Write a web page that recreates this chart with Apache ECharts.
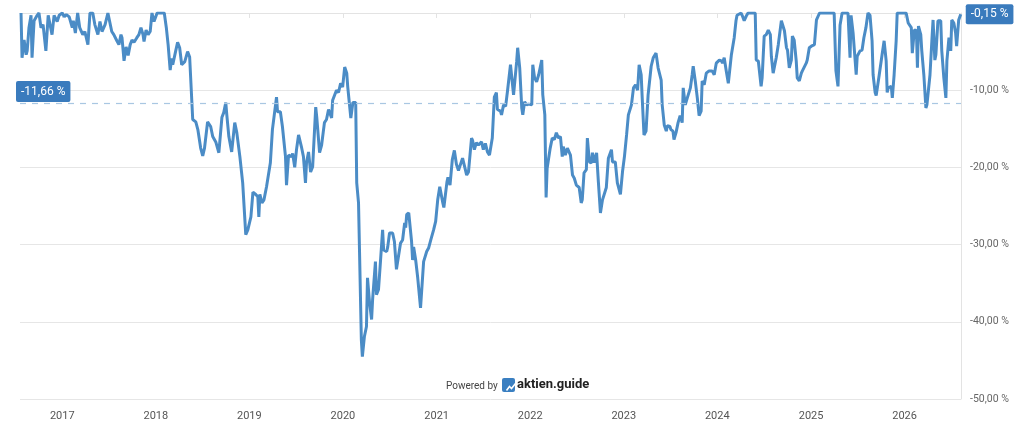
<!DOCTYPE html>
<html>
<head>
<meta charset="utf-8">
<script src="https://cdn.jsdelivr.net/npm/echarts@6/dist/echarts.min.js"></script>
<style>
  html, body { margin: 0; padding: 0; background: #fff; }
  #chart { width: 1024px; height: 429px; }
</style>
</head>
<body>
<div id="chart"></div>
<script>
// drawdown from the running high, in %
const dates = [
  '2016-07-24','2016-07-28','2016-08-05','2016-08-13','2016-08-17','2016-08-24','2016-09-01','2016-09-05',
  '2016-09-13','2016-09-25','2016-10-02','2016-10-10','2016-10-18','2016-10-29','2016-11-07','2016-11-22',
  '2016-11-30','2016-12-12','2016-12-20','2017-01-01','2017-01-09','2017-01-17','2017-01-28','2017-02-09',
  '2017-02-13','2017-02-21','2017-03-02','2017-03-10','2017-03-22','2017-03-30','2017-04-11','2017-04-19',
  '2017-04-30','2017-05-08','2017-05-20','2017-05-28','2017-06-05','2017-06-17','2017-06-28','2017-07-05',
  '2017-07-13','2017-07-21','2017-08-02','2017-08-10','2017-08-18','2017-08-22','2017-08-30','2017-09-07',
  '2017-09-15','2017-09-23','2017-09-30','2017-10-08','2017-10-19','2017-10-27','2017-11-04','2017-11-12',
  '2017-11-16','2017-11-24','2017-12-02','2017-12-10','2017-12-17','2017-12-25','2018-01-06','2018-01-26',
  '2018-02-03','2018-02-11','2018-02-18','2018-02-26','2018-03-04','2018-03-08','2018-03-19','2018-03-27',
  '2018-04-04','2018-04-12','2018-04-24','2018-05-05','2018-05-13','2018-05-25','2018-06-06','2018-06-14',
  '2018-06-25','2018-07-03','2018-07-10','2018-07-22','2018-08-03','2018-08-11','2018-08-15','2018-08-23',
  '2018-09-04','2018-09-16','2018-09-23','2018-10-01','2018-10-05','2018-10-13','2018-10-24','2018-11-05',
  '2018-11-13','2018-11-25','2018-12-06','2018-12-18','2018-12-26','2019-01-07','2019-01-15','2019-01-26',
  '2019-02-03','2019-02-07','2019-02-11','2019-02-19','2019-02-27','2019-03-09','2019-03-24','2019-04-01',
  '2019-04-17','2019-04-21','2019-05-02','2019-05-10','2019-05-14','2019-05-22','2019-05-26','2019-06-03',
  '2019-06-15','2019-06-19','2019-06-27','2019-07-04','2019-07-12','2019-07-23','2019-07-31','2019-08-08',
  '2019-08-12','2019-08-20','2019-08-28','2019-09-05','2019-09-17','2019-09-21','2019-10-02','2019-10-10',
  '2019-10-14','2019-10-21','2019-10-29','2019-11-06','2019-11-18','2019-11-22','2019-11-29','2019-12-07',
  '2019-12-15','2019-12-23','2019-12-31','2020-01-08','2020-01-16','2020-01-20','2020-02-01','2020-02-09',
  '2020-02-20','2020-02-24','2020-03-02','2020-03-13','2020-03-17','2020-03-25','2020-04-02','2020-04-06',
  '2020-04-14','2020-04-22','2020-04-26','2020-05-07','2020-05-11','2020-05-19','2020-05-27','2020-06-04',
  '2020-06-08','2020-06-20','2020-06-24','2020-07-01','2020-07-13','2020-07-20','2020-07-28','2020-08-01',
  '2020-08-13','2020-08-21','2020-08-29','2020-09-02','2020-09-06','2020-09-14','2020-09-25','2020-09-29',
  '2020-10-03','2020-10-11','2020-10-19','2020-10-30','2020-11-03','2020-11-11','2020-11-23','2020-12-01',
  '2020-12-09','2020-12-13','2020-12-20','2020-12-28','2021-01-05','2021-01-13','2021-01-25','2021-01-29',
  '2021-02-10','2021-02-14','2021-02-22','2021-03-03','2021-03-11','2021-03-19','2021-03-27','2021-04-12',
  '2021-04-20','2021-04-28','2021-05-05','2021-05-17','2021-05-21','2021-05-28','2021-06-05','2021-06-13',
  '2021-06-25','2021-07-02','2021-07-10','2021-07-18','2021-07-26','2021-08-06','2021-08-10','2021-08-14',
  '2021-08-22','2021-08-26','2021-09-07','2021-09-11','2021-09-19','2021-09-27','2021-10-04','2021-10-16',
  '2021-10-24','2021-10-28','2021-11-09','2021-11-13','2021-11-21','2021-11-29','2021-12-03','2021-12-10',
  '2021-12-18','2021-12-26','2022-01-07','2022-01-11','2022-01-18','2022-01-26','2022-02-03','2022-02-15',
  '2022-02-19','2022-02-27','2022-03-04','2022-03-08','2022-03-20','2022-03-28','2022-04-05','2022-04-13',
  '2022-04-21','2022-04-29','2022-05-06','2022-05-10','2022-05-18','2022-05-26','2022-06-07','2022-06-15',
  '2022-06-22','2022-06-30','2022-07-11','2022-07-19','2022-07-23','2022-07-30','2022-08-08','2022-08-12',
  '2022-08-20','2022-08-28','2022-09-01','2022-09-09','2022-09-17','2022-09-24','2022-10-02','2022-10-10',
  '2022-10-17','2022-10-25','2022-11-02','2022-11-14','2022-11-18','2022-11-29','2022-12-07','2022-12-19',
  '2022-12-27','2023-01-04','2023-01-12','2023-01-19','2023-01-31','2023-02-08','2023-02-16','2023-02-24',
  '2023-03-02','2023-03-10','2023-03-14','2023-03-21','2023-03-29','2023-04-06','2023-04-18','2023-04-26',
  '2023-05-07','2023-05-15','2023-05-27','2023-05-31','2023-06-08','2023-06-16','2023-06-20','2023-06-30',
  '2023-07-04','2023-07-12','2023-07-16','2023-07-24','2023-08-01','2023-08-09','2023-08-17','2023-08-21',
  '2023-08-29','2023-09-06','2023-09-18','2023-09-25','2023-09-29','2023-10-07','2023-10-15','2023-10-22',
  '2023-10-30','2023-11-03','2023-11-11','2023-11-19','2023-11-30','2023-12-12','2023-12-20','2023-12-28',
  '2024-01-09','2024-01-17','2024-01-21','2024-01-28','2024-02-05','2024-02-13','2024-02-25','2024-02-29',
  '2024-03-07','2024-03-14','2024-03-18','2024-04-03','2024-04-07','2024-04-15','2024-04-23','2024-04-30',
  '2024-05-28','2024-06-01','2024-06-09','2024-06-20','2024-06-24','2024-07-02','2024-07-10','2024-07-18',
  '2024-07-26','2024-07-30','2024-08-06','2024-08-10','2024-08-18','2024-08-26','2024-09-07','2024-09-11',
  '2024-09-19','2024-09-27','2024-10-01','2024-10-08','2024-10-16','2024-10-20','2024-10-27','2024-11-04',
  '2024-11-08','2024-11-16','2024-11-24','2024-11-28','2024-12-05','2024-12-13','2024-12-17','2024-12-25',
  '2025-01-02','2025-01-14','2025-01-22','2025-01-26','2025-02-03','2025-04-01','2025-04-08','2025-04-16',
  '2025-04-24','2025-05-02','2025-05-25','2025-06-02','2025-06-06','2025-06-14','2025-06-26','2025-06-30',
  '2025-07-11','2025-07-19','2025-07-26','2025-08-03','2025-08-11','2025-08-19','2025-08-27','2025-08-31',
  '2025-09-08','2025-09-12','2025-09-24','2025-10-05','2025-10-13','2025-10-21','2025-10-25','2025-10-29',
  '2025-11-10','2025-11-14','2025-11-21','2025-11-29','2025-12-03','2026-01-07','2026-01-15','2026-01-27',
  '2026-01-31','2026-02-08','2026-02-16','2026-02-20','2026-02-24','2026-03-05','2026-03-09','2026-03-17',
  '2026-03-25','2026-03-29','2026-04-10','2026-04-18','2026-04-22','2026-04-29','2026-05-03','2026-05-11',
  '2026-05-22','2026-05-26','2026-06-03','2026-06-11','2026-06-15','2026-06-23','2026-06-30','2026-07-04',
  '2026-07-12','2026-07-19','2026-07-23','2026-07-31','2026-08-08'
];

const drawdown = [
  0, -5.8, -3.5, -5.4, -4.9, -1.9, -0.3, -5.8,
  -1.0, -0.3, 0, -1.9, -1.5, -4.9, -0.3, -2.8,
  -0.3, -1.1, -0.3, 0, -0.5, -0.2, -0.5, -1.9,
  -1.0, -2.6, 0, -1.9, -2.8, -2.4, -4.1, 0,
  0, -1.5, -2.8, -1.1, -2.4, -1.5, 0, 0,
  -2.4, -2.8, -3.6, -4.1, -2.8, -3.2, -6.2, -4.4,
  -5.5, -4.1, -3.5, -3.8, -3.2, -2.8, -1.9, -2.8,
  -3.7, -2.2, -2.8, -2.4, 0, -1.1, 0, 0,
  0, -1.9, -4.1, -7.4, -5.9, -6.7, -5.0, -3.8,
  -4.5, -6.7, -6.3, -5.0, -5.7, -13.8, -14.1, -15.1,
  -17.5, -18.5, -17.5, -14.1, -14.7, -16.0, -15.8, -16.7,
  -18.1, -13.5, -12.9, -11.6, -13.2, -16.0, -18.0, -14.2,
  -15.5, -18.6, -22.0, -28.7, -28.1, -26.4, -23.2, -23.5,
  -23.8, -26.4, -23.5, -24.6, -24.2, -22.5, -19.4, -15.1,
  -10.9, -12.8, -12.8, -14.7, -14.5, -18.6, -22.3, -18.4,
  -18.6, -18.2, -20.0, -17.7, -15.8, -17.3, -18.6, -22.0,
  -19.4, -18.0, -20.6, -19.9, -12.2, -13.5, -18.1, -17.1,
  -17.3, -14.2, -13.8, -12.5, -13.6, -11.3, -11.5, -10.0,
  -10.3, -9.1, -9.6, -7.0, -7.8, -9.6, -13.6, -11.6,
  -11.6, -22.0, -24.6, -42.3, -44.5, -41.9, -40.6, -34.3,
  -37.5, -39.7, -37.1, -32.2, -36.5, -35.8, -32.0, -28.1,
  -30.7, -30.9, -30.3, -28.5, -28.5, -29.6, -33.2, -33.0,
  -29.8, -29.4, -27.2, -27.8, -26.1, -25.9, -29.6, -32.0,
  -30.3, -32.0, -34.3, -38.2, -38.0, -32.2, -30.9, -30.4,
  -29.4, -29.6, -28.1, -27.0, -24.2, -22.5, -24.6, -25.2,
  -21.9, -21.3, -22.3, -19.0, -17.8, -19.6, -20.4, -18.8,
  -19.9, -21.0, -20.6, -16.2, -16.5, -17.7, -16.8, -17.1,
  -16.7, -17.7, -16.9, -18.0, -18.4, -16.2, -13.5, -10.9,
  -10.3, -12.5, -12.7, -13.2, -11.9, -12.1, -10.2, -6.7,
  -9.3, -10.6, -6.3, -4.5, -7.1, -12.3, -13.2, -11.5,
  -11.9, -11.8, -11.9, -6.7, -8.4, -8.9, -8.0, -6.1,
  -10.6, -13.2, -23.9, -20.1, -17.5, -16.2, -16.4, -15.5,
  -16.2, -16.0, -18.6, -17.3, -18.4, -17.5, -18.4, -21.0,
  -21.4, -22.3, -22.6, -24.6, -24.2, -20.7, -20.3, -16.2,
  -19.3, -19.4, -18.1, -19.4, -18.1, -21.9, -25.9, -24.2,
  -24.4, -22.6, -18.8, -17.7, -19.3, -19.3, -22.0, -23.5,
  -20.6, -18.5, -15.8, -13.2, -11.9, -9.7, -9.3, -10.0,
  -6.7, -8.0, -11.0, -15.8, -15.3, -10.6, -6.9, -5.8,
  -5.2, -7.1, -8.7, -11.9, -14.5, -15.3, -14.6, -14.7,
  -15.1, -15.3, -16.4, -15.5, -14.2, -13.3, -14.2, -9.7,
  -11.9, -11.0, -9.7, -8.0, -6.9, -8.8, -11.0, -13.3,
  -12.7, -8.8, -9.3, -7.8, -7.5, -7.5, -8.0, -6.5,
  -6.1, -6.2, -6.5, -5.8, -7.5, -9.1, -5.4, -5.2,
  -3.2, -1.0, -0.3, 0, -0.3, -1.0, -0.4, 0,
  0, -6.1, -6.2, -9.5, -8.4, -3.0, -2.8, -2.2,
  -2.8, -5.6, -7.8, -8.0, -5.8, -4.1, -1.0, -0.9,
  -2.3, -4.5, -4.8, -7.1, -6.1, -3.0, -3.5, -6.2,
  -8.4, -8.8, -7.8, -7.5, -7.5, -6.5, -6.1, -4.5,
  -4.3, -4.1, -0.9, -1.1, 0, 0, -7.5, -9.5,
  -1.6, 0, 0, -5.8, -0.3, -2.6, -8.0, -5.6,
  -4.9, -4.8, -3.2, -1.9, 0, -0.3, -3.6, -8.0,
  -10.3, -10.7, -8.0, -5.4, -3.6, -6.2, -10.3, -9.7,
  -9.5, -11.0, -8.0, -3.6, 0, 0, -1.3, -1.9,
  -5.2, -2.2, -2.3, -7.1, -1.7, -2.8, -4.9, -8.0,
  -12.3, -11.9, -8.0, -3.2, -0.9, -6.1, -5.4, -1.0,
  -1.0, -4.9, -8.4, -11.0, -6.2, -3.2, -4.9, -0.9,
  -1.3, -2.6, -4.3, -0.9, -0.15
];

const yTicks = [0, -10, -20, -30, -40, -50];
const avgDrawdown = -11.66;

const pct = v => v.toFixed(2).replace('.', ',') + ' %';

const chart = echarts.init(document.getElementById('chart'));

chart.setOption({
  animation: false,
  textStyle: { fontFamily: 'Roboto, sans-serif' },
  grid: { left: 20, right: 63, top: 13, bottom: 30 },
  xAxis: {
    type: 'time',
    min: '2016-07-20',
    max: '2026-08-09',
    minInterval: 365 * 24 * 3600 * 1000,
    maxInterval: 366 * 24 * 3600 * 1000,
    axisLine: { lineStyle: { color: '#e3e3e3' } },
    axisTick: { show: true, length: 5, lineStyle: { color: '#e3e3e3' } },
    splitLine: { show: false },
    axisLabel: {
      color: '#555',
      fontSize: 11,
      margin: 12,
      showMinLabel: false,
      showMaxLabel: false,
      formatter: '{yyyy}'
    }
  },
  yAxis: {
    type: 'value',
    position: 'right',
    min: yTicks[yTicks.length - 1],
    max: yTicks[0],
    interval: 10,
    axisLine: { show: true, lineStyle: { color: '#e3e3e3' } },
    axisTick: { show: false },
    splitLine: { lineStyle: { color: '#e6e6e6' } },
    axisLabel: {
      color: '#666',
      fontSize: 10.5,
      margin: 9,
      formatter: v => (v === 0 ? '' : pct(v))
    }
  },
  series: [{
    type: 'line',
    data: dates.map((d, i) => [d, drawdown[i]]),
    showSymbol: false,
    lineStyle: { color: '#4b8cc6', width: 3 },
    itemStyle: { color: '#4b8cc6' },
    endLabel: {
      show: true,
      formatter: p => pct(p.value[1]),
      color: '#fff',
      backgroundColor: '#3a7bbd',
      padding: [4, 5, 4, 5],
      borderRadius: 2,
      fontSize: 12,
      distance: 5
    },
    markLine: {
      silent: true,
      symbol: 'none',
      lineStyle: { color: '#a9c7e2', type: [6, 6], width: 1.2 },
      data: [{ yAxis: avgDrawdown }],
      label: {
        position: 'insideStartTop',
        formatter: pct(avgDrawdown),
        color: '#fff',
        backgroundColor: '#3a7bbd',
        padding: [5, 5, 4, 5],
        borderRadius: 2,
        fontSize: 12,
        distance: [-4, 1]
      }
    }
  }],
  graphic: [
    {
      type: 'text', left: 446, top: 381,
      style: { text: 'Powered by', fill: '#444', font: '10px Roboto, sans-serif' }
    },
    {
      type: 'rect', left: 502, top: 378,
      shape: { width: 13, height: 14, r: 2 },
      style: { fill: '#3a7fc1' }
    },
    {
      type: 'polyline', left: 504, top: 381,
      shape: { points: [[0, 8], [3, 4], [5, 6], [9, 1]] },
      style: { stroke: '#fff', lineWidth: 1.6, fill: null }
    },
    {
      type: 'text', left: 517, top: 378,
      style: { text: 'aktien.guide', fill: '#222', font: 'bold 13px Roboto, sans-serif' }
    }
  ]
});
</script>
</body>
</html>
